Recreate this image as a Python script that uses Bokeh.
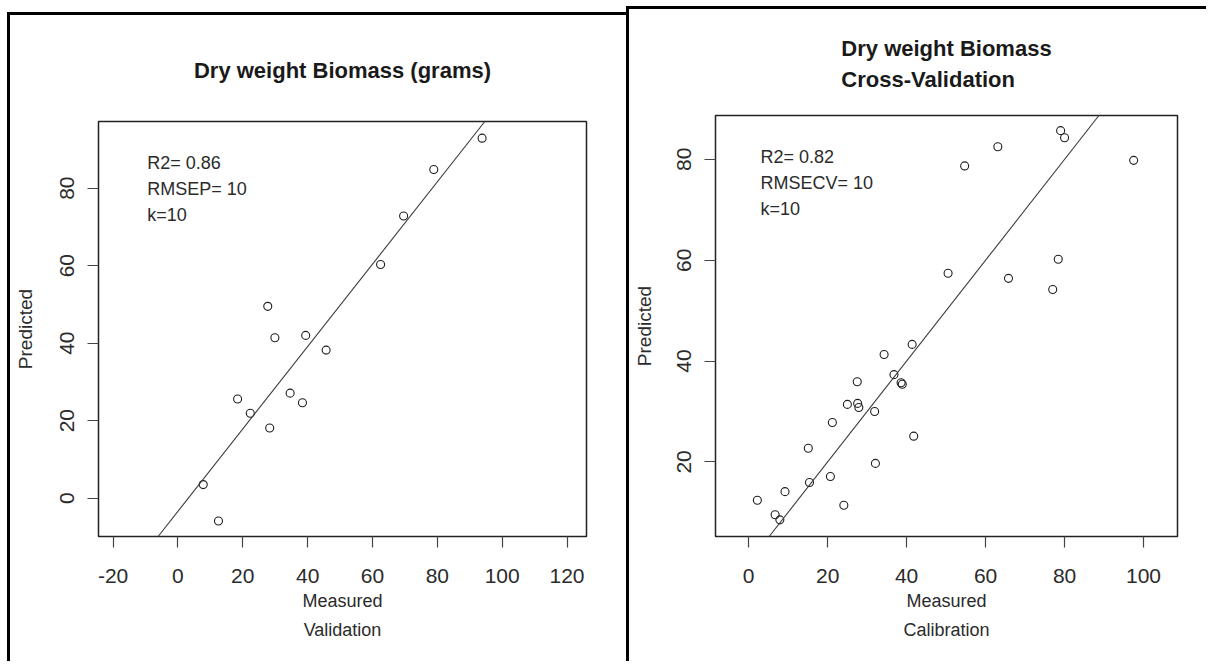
from bokeh.plotting import figure
from bokeh.layouts import row
from bokeh.models import Label, Slope, FixedTicker
from bokeh.embed import file_html
from bokeh.resources import INLINE

# ---- Validation panel data ----
val_measured = [93.8, 78.9, 69.6, 62.5, 27.7, 29.9, 39.4, 45.7, 18.4, 34.6,
                38.4, 22.3, 28.3, 7.8, 12.5]
val_predicted = [92.9, 84.8, 72.8, 60.3, 49.5, 41.4, 42.0, 38.2, 25.6, 27.1,
                 24.6, 21.9, 18.1, 3.5, -5.9]
val_fit_slope = 1.063
val_fit_intercept = -3.4
val_stats = ["R2= 0.86", "RMSEP= 10", "k=10"]
val_xticks = [-20, 0, 20, 40, 60, 80, 100, 120]
val_yticks = [0, 20, 40, 60, 80]

# ---- Calibration (cross-validation) panel data ----
cal_measured = [79.0, 80.0, 63.1, 97.5, 54.7, 78.4, 50.5, 65.8, 77.0, 41.4,
                34.3, 36.8, 27.5, 38.6, 38.9, 25.0, 27.6, 27.9, 31.9, 21.2,
                41.8, 15.1, 32.1, 20.7, 15.4, 9.2, 2.2, 24.1, 6.7, 7.9]
cal_predicted = [85.7, 84.3, 82.5, 79.8, 78.7, 60.2, 57.4, 56.4, 54.2, 43.3,
                 41.3, 37.3, 35.9, 35.7, 35.4, 31.4, 31.6, 30.8, 30.0, 27.8,
                 25.1, 22.7, 19.7, 17.1, 15.9, 14.1, 12.4, 11.4, 9.5, 8.5]
cal_fit_slope = 1.0
cal_fit_intercept = 0.0
cal_stats = ["R2= 0.82", "RMSECV= 10", "k=10"]
cal_xticks = [0, 20, 40, 60, 80, 100]
cal_yticks = [20, 40, 60, 80]

FONT = "Liberation Sans, Arial, sans-serif"
TXT = "#2b2b2b"


def panel(title, title_lh, title_standoff, ylab_standoff, xs, ys, slope,
          intercept, stats, stat_xy, xticks, yticks, xr, yr, xlabel, width,
          height, mb, styles):
    p = figure(width=width, height=height, x_range=xr, y_range=yr,
               output_backend="svg", toolbar_location=None,
               min_border_left=mb[0], min_border_right=mb[1],
               min_border_top=mb[2], min_border_bottom=mb[3],
               background_fill_color="white", border_fill_color="white")
    p.styles = styles
    p.title.text = title
    p.title.align = "center"
    p.title.text_font = FONT
    p.title.text_font_style = "bold"
    p.title.text_font_size = "22px"
    p.title.text_color = "#1a1a1a"
    p.title.text_line_height = title_lh
    p.title.standoff = title_standoff
    p.grid.visible = False
    p.outline_line_color = "#222222"
    p.outline_line_width = 1.5
    for ax, ticks in ((p.xaxis, xticks), (p.yaxis, yticks)):
        ax.ticker = FixedTicker(ticks=ticks)
        ax.major_label_overrides = {t: str(t) for t in ticks}
        ax.axis_line_color = None
        ax.major_tick_line_color = "#444444"
        ax.major_tick_line_width = 1.2
        ax.major_tick_out = 11
        ax.major_tick_in = 0
        ax.minor_tick_line_color = None
        ax.major_label_text_font = FONT
        ax.major_label_text_font_size = "21px"
        ax.major_label_text_color = TXT
        ax.axis_label_text_font = FONT
        ax.axis_label_text_font_size = "18px"
        ax.axis_label_text_font_style = "normal"
        ax.axis_label_text_color = TXT
    p.xaxis.major_label_standoff = 21
    p.xaxis.axis_label = xlabel
    p.xaxis.axis_label_text_line_height = 1.45
    p.xaxis.axis_label_standoff = 5
    p.yaxis.major_label_orientation = "vertical"
    p.yaxis.major_label_standoff = 13
    p.yaxis.axis_label = "Predicted"
    p.yaxis.axis_label_text_font_size = "19px"
    p.yaxis.axis_label_standoff = ylab_standoff

    p.add_layout(Slope(gradient=slope, y_intercept=intercept,
                       line_color="#3a3a3a", line_width=1.1))
    p.scatter(xs, ys, marker="circle", size=8, fill_color=None,
              line_color="#1e1e1e", line_width=1.1)
    p.add_layout(Label(x=stat_xy[0], y=stat_xy[1], text="\n".join(stats),
                       text_font=FONT, text_font_size="18px",
                       text_color=TXT, text_baseline="top",
                       text_align="left", text_line_height=1.3))
    return p


left = panel("Dry weight Biomass (grams)", 0.9, 78, 22,
             val_measured, val_predicted,
             val_fit_slope, val_fit_intercept, val_stats, (-9.5, 89.0),
             val_xticks, val_yticks, (-24.5, 126.0), (-9.9, 97.2),
             "Measured\nValidation", 619, 649, (88, 43, 105, 127),
             {"border-top": "3px solid black", "border-left": "3px solid black",
              "margin-top": "12px", "margin-left": "7px"})
right = panel("Dry weight Biomass\nCross-Validation", 1.225, 48, 20,
              cal_measured, cal_predicted, cal_fit_slope, cal_fit_intercept,
              cal_stats, (3.0, 82.5), cal_xticks, cal_yticks,
              (-8.4, 108.6), (5.2, 88.7),
              "Measured\nCalibration", 580, 655, (86, 32, 105, 128),
              {"border-top": "3px solid black", "border-left": "3px solid black",
               "margin-top": "6px"})

layout = row(left, right)
open("out.html", "w").write(file_html(layout, INLINE))
